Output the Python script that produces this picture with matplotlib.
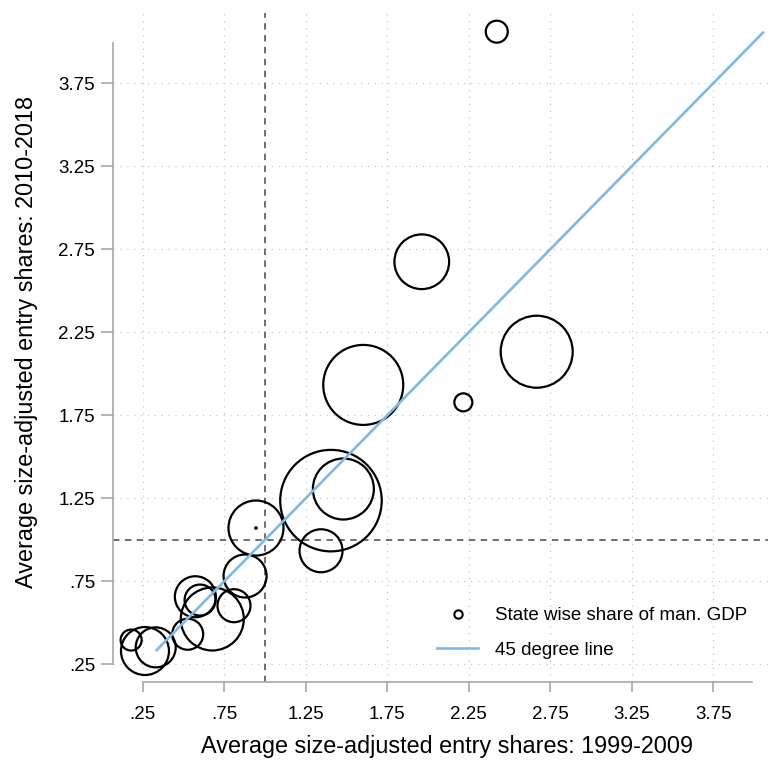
import matplotlib
matplotlib.use("Agg")
import matplotlib.pyplot as plt
from matplotlib.lines import Line2D
import numpy as np

plt.rcParams['font.family'] = ['Liberation Sans', 'DejaVu Sans']

# Average size-adjusted entry shares
x_1999_2009 = [2.422, 1.962, 2.667, 1.603, 2.217, 1.405, 1.481, 1.344, 0.945, 0.945,
               0.878, 0.810, 0.677, 0.573, 0.602, 0.526, 0.330, 0.264, 0.179]
y_2010_2018 = [4.061, 2.675, 2.133, 1.933, 1.828, 1.236, 1.306, 0.934, 1.071, 1.071,
               0.782, 0.603, 0.523, 0.657, 0.637, 0.431, 0.352, 0.330, 0.396]
# bubble diameters (relative weight: state-wise share of manufacturing GDP), in pixels
bubble_diam = [22, 54.7, 72, 80, 18, 101.5, 61, 43, 55, 1.5,
               43, 33, 63, 41, 31, 31, 40, 48, 21]

ticks = [0.25, 0.75, 1.25, 1.75, 2.25, 2.75, 3.25, 3.75]
tick_labels = [".25", ".75", "1.25", "1.75", "2.25", "2.75", "3.25", "3.75"]

W, H = 769, 763
fig = plt.figure(figsize=(W / 100, H / 100), dpi=100)
ax = fig.add_axes([113 / W, 1 - 681.7 / H, 655 / W, 668.7 / H])
ax.set_xlim(0.0678, 4.086)
ax.set_ylim(0.1452, 4.1735)

grid_col = "#c8c8c8"
for t in ticks:
    ax.axvline(t, color=grid_col, lw=0.9, ls=(0, (1, 4.5)), zorder=0)
    ax.axhline(t, color=grid_col, lw=0.9, ls=(0, (1, 4.5)), zorder=0)

ref_col = "#6e6e6e"
ax.axvline(1.0, color=ref_col, lw=1.4, ls=(0, (3.3, 2.8)), zorder=1)
ax.axhline(1.0, color=ref_col, lw=1.4, ls=(0, (3.3, 2.8)), zorder=1)

sizes = [(d * 0.72) ** 2 for d in bubble_diam]
ax.scatter(x_1999_2009, y_2010_2018, s=sizes, facecolors="none", edgecolors="black",
           linewidths=1.6, zorder=2)

ys = np.sort(np.array(y_2010_2018))
ax.plot(ys, ys, color="#7db9e6", lw=1.9, zorder=3, solid_capstyle="butt")

for side in ["top", "right"]:
    ax.spines[side].set_visible(False)
spine_col = "#a8a8a8"
for side in ["left", "bottom"]:
    ax.spines[side].set_color(spine_col)
    ax.spines[side].set_linewidth(1.2)
ax.spines["left"].set_bounds(0.25, 3.99)
ax.spines["bottom"].set_bounds(0.25, 3.99)

ax.set_xticks(ticks)
ax.set_xticklabels(tick_labels)
ax.set_yticks(ticks)
ax.set_yticklabels(tick_labels)
ax.tick_params(axis="both", colors=spine_col, labelcolor="black", labelsize=13.5,
               width=1.2)
ax.tick_params(axis="y", length=8.4, pad=4.5)
ax.tick_params(axis="x", length=7.2, pad=10.5)

ax.set_xlabel("Average size-adjusted entry shares: 1999-2009", fontsize=16.8)
ax.set_ylabel("Average size-adjusted entry shares: 2010-2018", fontsize=16.8)
ax.xaxis.label.set_va("center")
ax.xaxis.set_label_coords((447.5 - 113) / 655, (681.7 - 747) / 668.7)
ax.yaxis.label.set_va("center")
ax.yaxis.label.set_rotation_mode("default")
ax.yaxis.set_label_coords((26 - 113) / 655, (681.7 - 342) / 668.7)

handles = [
    Line2D([], [], ls="none", marker="o", markersize=6, markerfacecolor="none",
           markeredgecolor="black", markeredgewidth=1.5),
    Line2D([], [], color="#7db9e6", lw=1.9),
]
leg = fig.legend(handles, ["State wise share of man. GDP", "45 degree line"],
                 loc="center left", bbox_to_anchor=(437 / W, 1 - 633 / H),
                 frameon=False, fontsize=13.5, handlelength=2.19, handletextpad=0.9,
                 labelspacing=0.95, borderpad=0, borderaxespad=0)

fig.savefig("out.png", dpi=100)
